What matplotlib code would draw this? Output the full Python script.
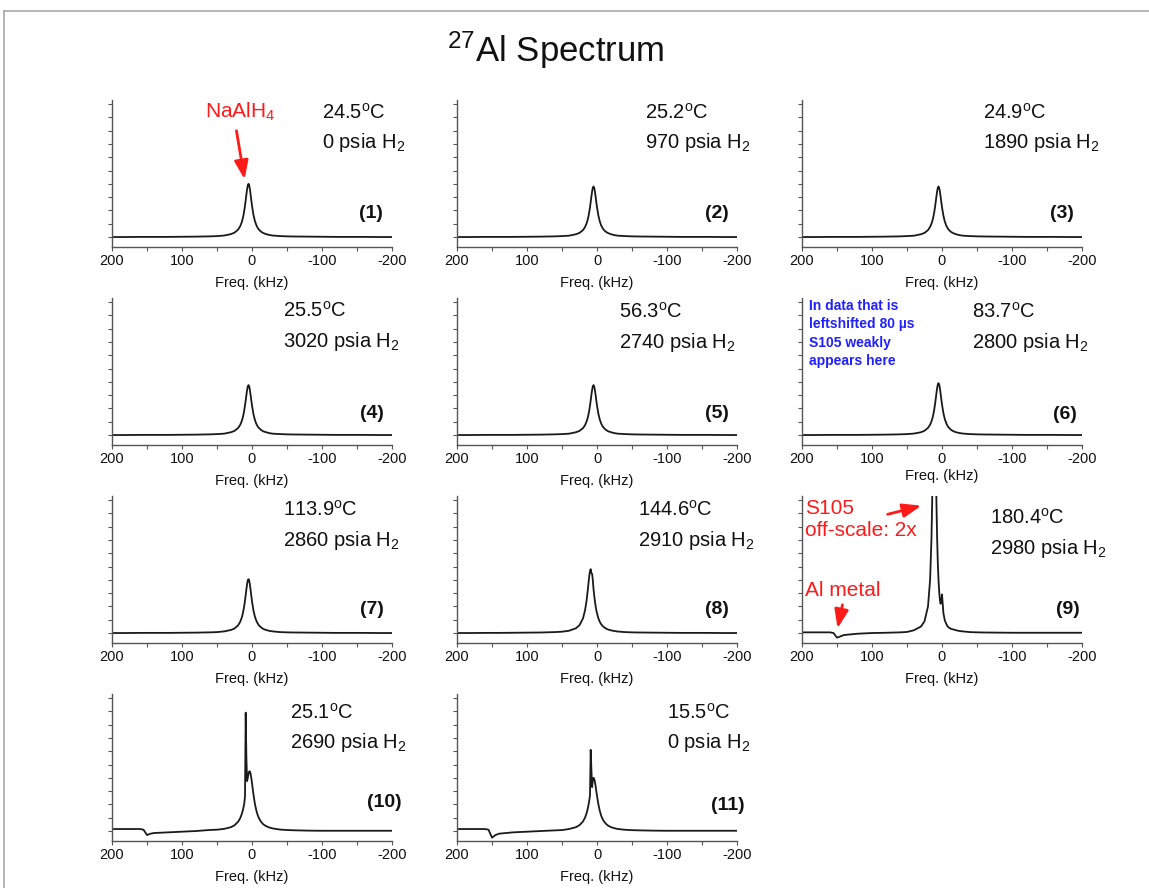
import matplotlib
matplotlib.use('Agg')
import matplotlib.pyplot as plt
from matplotlib.patches import FancyArrowPatch
from matplotlib.lines import Line2D
from matplotlib.ticker import FixedLocator

plt.rcParams['font.family'] = ['Liberation Sans', 'DejaVu Sans']
plt.rcParams['mathtext.fontset'] = 'custom'
plt.rcParams['mathtext.rm'] = 'Liberation Sans'
plt.rcParams['mathtext.it'] = 'Liberation Sans:italic'
plt.rcParams['mathtext.bf'] = 'Liberation Sans:bold'

# ---------------- data ----------------
FREQ = [200, 180, 160, 155, 150, 145, 140, 120, 100, 80, 60, 50, 40, 30, 25, 20, 17, 15,
        14, 13, 12, 11, 10, 9, 8, 7, 6, 5, 4, 3, 2, 1, 0, -2, -4, -6, -8, -10, -13, -16,
        -20, -25, -30, -40, -50, -60, -80, -100, -120, -140, -160, -180, -200]

spec_1 = [0.00, 0.00, 0.01, 0.01, 0.01, 0.01, 0.01, 0.01, 0.02, 0.03, 0.05, 0.07, 0.11, 0.22, 0.33, 0.55, 0.80, 1.06,
          1.23, 1.44, 1.69, 2.00, 2.36, 2.77, 3.20, 3.60, 3.89, 4.00, 3.89, 3.60, 3.20, 2.77, 2.36, 1.69, 1.23, 0.92, 0.70, 0.55, 0.40, 0.30,
          0.22, 0.15, 0.11, 0.07, 0.05, 0.04, 0.03, 0.02, 0.01, 0.01, 0.01, 0.00, 0.00]
spec_2 = [0.00, 0.00, 0.01, 0.01, 0.01, 0.01, 0.01, 0.01, 0.02, 0.03, 0.05, 0.07, 0.10, 0.21, 0.31, 0.52, 0.76, 1.01,
          1.17, 1.37, 1.61, 1.90, 2.24, 2.63, 3.04, 3.42, 3.70, 3.80, 3.70, 3.42, 3.04, 2.63, 2.24, 1.61, 1.17, 0.87, 0.67, 0.52, 0.38, 0.29,
          0.21, 0.14, 0.10, 0.07, 0.05, 0.04, 0.03, 0.02, 0.01, 0.01, 0.01, 0.00, 0.00]
spec_3 = [0.00, 0.00, 0.01, 0.01, 0.01, 0.01, 0.01, 0.01, 0.02, 0.03, 0.05, 0.07, 0.10, 0.21, 0.31, 0.52, 0.76, 1.01,
          1.17, 1.37, 1.61, 1.90, 2.24, 2.63, 3.04, 3.42, 3.70, 3.80, 3.70, 3.42, 3.04, 2.63, 2.24, 1.61, 1.17, 0.87, 0.67, 0.52, 0.38, 0.29,
          0.21, 0.14, 0.10, 0.07, 0.05, 0.04, 0.03, 0.02, 0.01, 0.01, 0.01, 0.00, 0.00]
spec_4 = [0.00, 0.00, 0.01, 0.01, 0.01, 0.01, 0.01, 0.01, 0.02, 0.03, 0.05, 0.07, 0.10, 0.21, 0.31, 0.52, 0.75, 1.00,
          1.16, 1.35, 1.59, 1.88, 2.22, 2.60, 3.01, 3.38, 3.66, 3.75, 3.66, 3.38, 3.01, 2.60, 2.22, 1.59, 1.16, 0.86, 0.66, 0.52, 0.38, 0.28,
          0.21, 0.14, 0.10, 0.07, 0.05, 0.04, 0.03, 0.02, 0.01, 0.01, 0.01, 0.00, 0.00]
spec_5 = [0.00, 0.00, 0.01, 0.01, 0.01, 0.01, 0.01, 0.01, 0.02, 0.03, 0.05, 0.07, 0.10, 0.21, 0.31, 0.52, 0.75, 1.00,
          1.16, 1.35, 1.59, 1.88, 2.22, 2.60, 3.01, 3.38, 3.66, 3.75, 3.66, 3.38, 3.01, 2.60, 2.22, 1.59, 1.16, 0.86, 0.66, 0.52, 0.38, 0.28,
          0.21, 0.14, 0.10, 0.07, 0.05, 0.04, 0.03, 0.02, 0.01, 0.01, 0.01, 0.00, 0.00]
spec_6 = [0.00, 0.00, 0.01, 0.01, 0.01, 0.01, 0.01, 0.01, 0.02, 0.03, 0.05, 0.07, 0.11, 0.21, 0.32, 0.54, 0.78, 1.03,
          1.20, 1.40, 1.65, 1.95, 2.30, 2.70, 3.12, 3.51, 3.79, 3.90, 3.79, 3.51, 3.12, 2.70, 2.30, 1.65, 1.20, 0.90, 0.68, 0.54, 0.39, 0.29,
          0.21, 0.15, 0.11, 0.07, 0.05, 0.04, 0.03, 0.02, 0.01, 0.01, 0.01, 0.00, 0.00]
spec_7 = [0.00, 0.00, 0.01, 0.01, 0.01, 0.01, 0.01, 0.01, 0.02, 0.03, 0.05, 0.07, 0.12, 0.23, 0.34, 0.57, 0.83, 1.10,
          1.28, 1.50, 1.76, 2.07, 2.44, 2.86, 3.29, 3.69, 3.96, 4.05, 3.94, 3.64, 3.24, 2.80, 2.39, 1.72, 1.26, 0.95, 0.73, 0.57, 0.42, 0.31,
          0.23, 0.16, 0.12, 0.07, 0.05, 0.04, 0.03, 0.02, 0.01, 0.01, 0.01, 0.00, 0.00]
spec_8 = [0.00, 0.00, 0.01, 0.01, 0.01, 0.01, 0.01, 0.02, 0.03, 0.04, 0.07, 0.10, 0.17, 0.36, 0.59, 1.10, 1.73, 2.40,
          2.84, 3.32, 3.84, 4.32, 4.67, 4.80, 4.50, 4.45, 4.00, 3.32, 2.84, 2.40, 2.03, 1.73, 1.48, 1.10, 0.84, 0.66, 0.53, 0.44, 0.33, 0.26,
          0.20, 0.15, 0.11, 0.07, 0.05, 0.04, 0.03, 0.02, 0.01, 0.01, 0.01, 0.00, 0.00]
spec_9 = [0.05, 0.05, 0.05, 0.00, -0.35, -0.25, -0.15, -0.05, 0.00, 0.02, 0.05, 0.08, 0.21, 0.49, 0.88, 2.00, 4.00, 7.20,
          10.0, 13.8, 18.0, 20.0, 18.0, 13.8, 10.0, 7.20, 5.30, 4.00, 3.10, 2.50, 2.20, 2.40, 2.90, 1.50, 0.95, 0.70, 0.50, 0.40, 0.31, 0.27,
          0.21, 0.15, 0.12, 0.07, 0.05, 0.04, 0.03, 0.02, 0.02, 0.02, 0.02, 0.02, 0.02]
spec_10 = [0.15, 0.15, 0.15, 0.10, -0.30, -0.20, -0.15, -0.10, -0.05, 0.00, 0.08, 0.10, 0.16, 0.29, 0.43, 0.69, 0.95, 1.22,
           1.38, 1.58, 1.82, 2.09, 2.60, 8.90, 5.50, 3.75, 4.00, 4.30, 4.48, 4.48, 4.30, 3.99, 3.60, 2.78, 2.09, 1.58, 1.22, 0.95, 0.69, 0.51,
           0.37, 0.26, 0.19, 0.11, 0.075, 0.055, 0.03, 0.02, 0.02, 0.02, 0.02, 0.02, 0.02]
spec_11 = [0.15, 0.15, 0.15, 0.10, -0.50, -0.30, -0.20, -0.10, -0.05, 0.00, 0.05, 0.07, 0.15, 0.29, 0.44, 0.72, 1.02, 1.32,
           1.51, 1.73, 2.00, 2.31, 2.70, 6.10, 4.60, 3.30, 3.80, 4.00, 3.92, 3.70, 3.38, 3.00, 2.65, 2.00, 1.51, 1.15, 0.90, 0.72, 0.53, 0.40,
           0.29, 0.21, 0.15, 0.095, 0.065, 0.05, 0.03, 0.02, 0.02, 0.02, 0.02, 0.02, 0.02]

spectra = [spec_1, spec_2, spec_3, spec_4, spec_5, spec_6, spec_7, spec_8, spec_9, spec_10, spec_11]
temperatures = ["24.5", "25.2", "24.9", "25.5", "56.3", "83.7", "113.9", "144.6", "180.4", "25.1", "15.5"]
pressures = ["0", "970", "1890", "3020", "2740", "2800", "2860", "2910", "2980", "2690", "0"]
panel_labels = ["(1)", "(2)", "(3)", "(4)", "(5)", "(6)", "(7)", "(8)", "(9)", "(10)", "(11)"]
x_major = [200, 100, 0, -100, -200]
x_minor = [150, 50, -50, -150]
y_ticks = [0, 1, 2, 3, 4, 5, 6, 7, 8, 9, 10]
blue_note_lines = ["In data that is", "leftshifted 80 \u00b5s", "S105 weakly", "appears here"]

# ---------------- layout ----------------
W, H = 1149, 888
def fx(x):
    return x / W
def fy(y):
    return 1 - y / H

fig = plt.figure(figsize=(W / 100, H / 100), dpi=100)
fig.patch.set_facecolor('white')

# frame lines
fig.add_artist(Line2D([fx(4), fx(1149)], [fy(11), fy(11)], color='#a8a8a8', lw=1.2))
fig.add_artist(Line2D([fx(4), fx(4)], [fy(11), fy(888)], color='#a8a8a8', lw=1.2))

fig.text(fx(556), fy(50), r'$^{27}$Al Spectrum', fontsize=25, ha='center', va='center', color='#111111')

col_left = [112, 457, 802]
row_bottom = [247, 445, 643, 841]
AX_W, AX_H = 280, 147

temp_pos = [(322, 113), (645, 113), (983, 113),
            (283, 311), (619, 312), (972, 312),
            (283, 510), (638, 510), (990, 518),
            (290, 713), (667, 713)]
num_pos = [(383, 213), (729, 213), (1074, 213),
           (384, 413), (729, 413), (1077, 414),
           (384, 609), (729, 609), (1080, 609),
           (402, 802), (745, 805)]
label_offset = [36, 36, 36, 36, 36, 31, 36, 36, 36, 36, 36]

for i, spec in enumerate(spectra):
    r, c = divmod(i, 3)
    left = col_left[c]
    bottom = row_bottom[r]
    ax = fig.add_axes([fx(left), fy(bottom), AX_W / W, AX_H / H])
    ax.plot(FREQ, spec, color='#1a1a1a', lw=1.3)
    ax.set_xlim(200, -200)
    ax.set_ylim(-0.75, 10.3)
    for s in ['top', 'right']:
        ax.spines[s].set_visible(False)
    for s in ['left', 'bottom']:
        ax.spines[s].set_color('#555555')
        ax.spines[s].set_linewidth(1.0)
    ax.set_xticks(x_major)
    ax.set_xticklabels([str(v) for v in x_major])
    ax.xaxis.set_minor_locator(FixedLocator(x_minor))
    ax.set_yticks(y_ticks)
    ax.tick_params(axis='y', labelleft=False)
    ax.tick_params(axis='both', which='both', direction='out', length=3, width=0.8,
                   colors='#555555', labelsize=10.5, labelcolor='#111111', pad=2)
    ax.patch.set_alpha(0)
    ax.text(0.5, -label_offset[i] / AX_H, 'Freq. (kHz)', transform=ax.transAxes,
            ha='center', va='center', fontsize=10.5, color='#111111')

    tx, ty = temp_pos[i]
    fig.text(fx(tx), fy(ty), temperatures[i] + r'$^{\mathrm{o}}$C', fontsize=14.5,
             ha='left', va='center', color='#111111')
    fig.text(fx(tx), fy(ty + 30), pressures[i] + r' psia H$_{\mathrm{2}}$', fontsize=14.5,
             ha='left', va='center', color='#111111')
    nx, ny = num_pos[i]
    fig.text(fx(nx), fy(ny), panel_labels[i], fontsize=14, fontweight='bold',
             ha='right', va='center', color='#111111')

RED = '#ff1a1a'

def arrow(p0, p1):
    a = FancyArrowPatch((fx(p0[0]), fy(p0[1])), (fx(p1[0]), fy(p1[1])),
                        transform=fig.transFigure, arrowstyle='-|>,head_length=0.8,head_width=0.3',
                        mutation_scale=14, color=RED, lw=2)
    fig.add_artist(a)

# Panel 1 annotation
fig.text(fx(205), fy(112), r'NaAlH$_{\mathrm{4}}$', fontsize=15, color=RED, ha='left', va='center')
arrow((236, 128), (245, 182))

# Panel 6 note
for k, line in enumerate(blue_note_lines):
    fig.text(fx(809), fy(306 + 18.3 * k), line, fontsize=10, fontweight='bold',
             color='#2020ff', ha='left', va='center')

# Panel 9 annotations
fig.text(fx(805), fy(508), 'S105', fontsize=15, color=RED, ha='left', va='center')
fig.text(fx(805), fy(530), 'off-scale: 2x', fontsize=15, color=RED, ha='left', va='center')
arrow((885, 515), (924, 505))
fig.text(fx(805), fy(590), 'Al metal', fontsize=15, color=RED, ha='left', va='center')
arrow((843, 602), (837, 631))

fig.savefig('out.png', dpi=100, facecolor='white')
